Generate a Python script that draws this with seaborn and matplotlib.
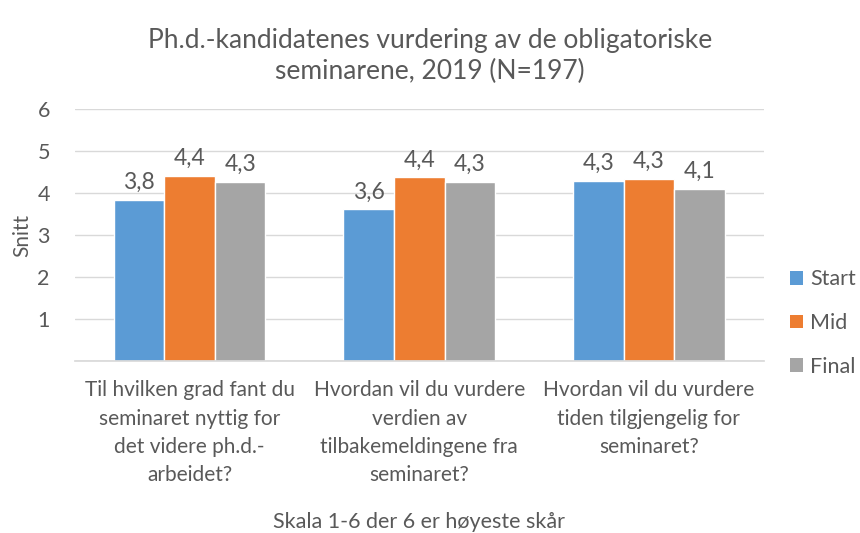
import matplotlib
matplotlib.use("Agg")
import matplotlib.pyplot as plt
import seaborn as sns
import pandas as pd
from matplotlib.patches import Patch

categories = [
    "Til hvilken grad fant du\nseminaret nyttig for\ndet videre ph.d.-\narbeidet?",
    "Hvordan vil du vurdere\nverdien av\ntilbakemeldingene fra\nseminaret?",
    "Hvordan vil du vurdere\ntiden tilgjengelig for\nseminaret?",
]
series = ["Start", "Mid", "Final"]
start_vals = [3.84, 3.61, 4.29]
mid_vals = [4.41, 4.37, 4.33]
final_vals = [4.26, 4.26, 4.10]
colors = ["#5B9BD5", "#ED7D31", "#A5A5A5"]
yticks = [1, 2, 3, 4, 5, 6]

rows = []
for s, vals in zip(series, [start_vals, mid_vals, final_vals]):
    for c, v in zip(categories, vals):
        rows.append({"cat": c, "series": s, "val": v})
df = pd.DataFrame(rows)

sns.set_theme(style="white")
FONT = ["Lato", "DejaVu Sans"]
plt.rcParams["font.family"] = FONT
TXT = "#595959"

fig = plt.figure(figsize=(8.6, 5.33), dpi=100)
ax = fig.add_axes([0.087, 1 - 361 / 533, 0.801, (361 - 109) / 533])

sns.barplot(data=df, x="cat", y="val", hue="series", order=categories,
            hue_order=series, palette=colors, width=0.66, gap=0,
            saturation=1, ax=ax, legend=False, errorbar=None)

ax.set_ylim(0, 6)
ax.set_xlim(-0.5, 2.5)
ax.set_yticks([0] + yticks)
ax.set_yticklabels([""] + [str(t) for t in yticks])
ax.yaxis.grid(True, color="#D9D9D9", linewidth=1)
ax.set_axisbelow(True)
for side in ["top", "right", "left"]:
    ax.spines[side].set_visible(False)
ax.spines["bottom"].set_color("#D9D9D9")
ax.tick_params(axis="both", length=0, colors=TXT)
ax.tick_params(axis="y", pad=18, labelsize=15.5)
ax.tick_params(axis="x", pad=14, labelsize=15)
for lbl in ax.get_xticklabels():
    lbl.set_linespacing(1.52)

for cont in ax.containers:
    ax.bar_label(cont, labels=[f"{v:.1f}".replace(".", ",") for v in cont.datavalues],
                 padding=5, fontsize=16.5, color=TXT)

ax.set_xlabel("Skala 1-6 der 6 er høyeste skår", fontsize=15.5, color=TXT)
ax.xaxis.label.set_va("center")
ax.xaxis.set_label_coords(0.5, (361 - 522) / 252)
ax.set_ylabel("Snitt", fontsize=15, color=TXT)
ax.yaxis.label.set_va("center")
ax.yaxis.set_label_coords((22 - 75) / 689, 0.5)

fig.text(0.5, 1 - 56 / 533, "Ph.d.-kandidatenes vurdering av de obligatoriske\nseminarene, 2019 (N=197)",
         ha="center", va="center", fontsize=19, color=TXT, linespacing=1.3)

handles = [Patch(facecolor=c, edgecolor="none") for c in colors]
leg = fig.legend(handles, series, loc="center left", bbox_to_anchor=(790 / 860, 1 - 323 / 533),
                 frameon=False, fontsize=15.5, labelcolor=TXT, handlelength=0.6, handleheight=0.6,
                 handletextpad=0.35, labelspacing=1.1, borderpad=0, borderaxespad=0)

fig.savefig("out.png", dpi=100)
